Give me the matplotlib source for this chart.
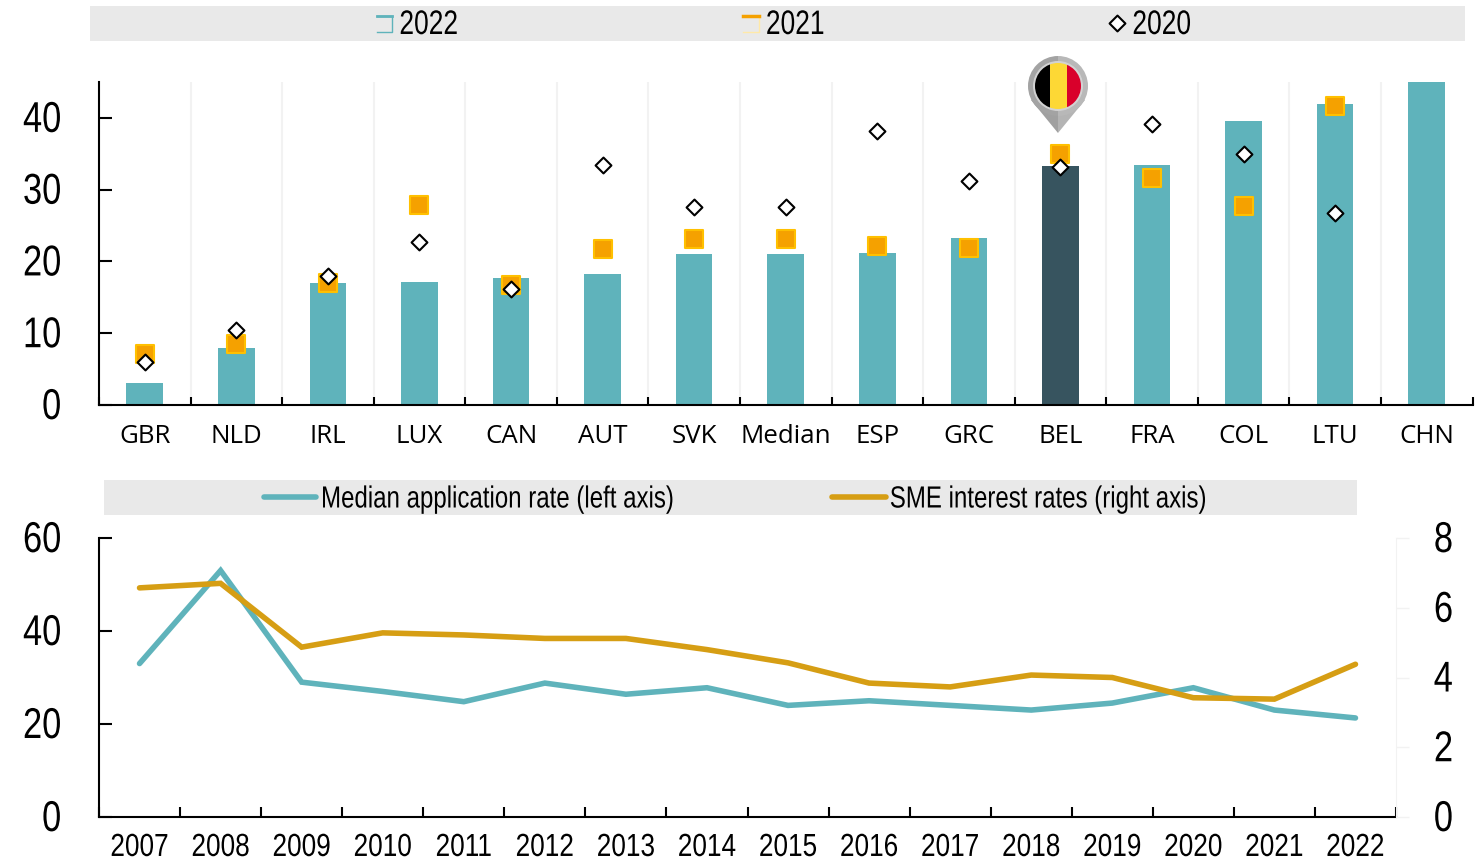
import matplotlib
matplotlib.use('Agg')
import matplotlib.pyplot as plt
from matplotlib.patches import Rectangle, Circle, Polygon, Wedge
from matplotlib.lines import Line2D
from matplotlib.patheffects import AbstractPathEffect
from matplotlib.transforms import Affine2D, ScaledTranslation
import numpy as np

plt.rcParams['font.family'] = ['Liberation Sans']

countries = ['GBR', 'NLD', 'IRL', 'LUX', 'CAN', 'AUT', 'SVK', 'Median', 'ESP', 'GRC', 'BEL', 'FRA', 'COL', 'LTU', 'CHN']
v2022 = [3.0, 7.9, 17.0, 17.2, 17.7, 18.2, 21.0, 21.1, 21.2, 23.2, 33.3, 33.4, 39.6, 42.0, 47.0]
v2021 = [7.1, 8.5, 17.0, 27.8, 16.7, 21.8, 23.1, 23.1, 22.1, 21.9, 35.0, 31.6, 27.7, 41.6, np.nan]
v2020 = [6.0, 10.4, 18.0, 22.7, 16.1, 33.5, 27.6, 27.6, 38.2, 31.2, 33.1, 39.2, 35.0, 26.7, np.nan]

years = ['2007', '2008', '2009', '2010', '2011', '2012', '2013', '2014', '2015', '2016', '2017', '2018', '2019', '2020', '2021', '2022']
application = [33.0, 53.0, 29.0, 27.0, 24.8, 28.8, 26.4, 27.8, 24.0, 25.0, 24.0, 23.0, 24.5, 27.8, 23.0, 21.3]
sme_rates = [6.57, 6.70, 4.87, 5.28, 5.22, 5.12, 5.12, 4.80, 4.42, 3.84, 3.73, 4.07, 4.00, 3.42, 3.38, 4.38]

TEAL = '#5fb3bb'
DARK = '#37545f'
ORANGE = '#f5a100'
EDGE = '#ffc000'
GOLD = '#d69e14'
W, H = 1476, 859


class Squeeze(AbstractPathEffect):
    # the reference uses a condensed font, no such font here so narrow the glyphs
    def __init__(self, sx, anchor='left'):
        super().__init__()
        self.sx = sx
        self.anchor = anchor

    def draw_path(self, renderer, gc, tpath, affine, rgbFace=None):
        box = tpath.get_extents(affine)
        a = {'left': box.x0, 'center': (box.x0 + box.x1) / 2, 'right': box.x1}[self.anchor]
        narrow = affine + Affine2D().translate(-a, 0).scale(self.sx, 1).translate(a, 0)
        renderer.draw_path(gc, tpath, narrow, rgbFace)


def axes_px(x0, y0, x1, y1):
    return fig.add_axes([x0 / W, 1 - y1 / H, (x1 - x0) / W, (y1 - y0) / H])


def lift_labels(labels, px):
    for t in labels:
        t.set_transform(t.get_transform() + ScaledTranslation(0, px / 100, fig.dpi_scale_trans))


fig = plt.figure(figsize=(W / 100, H / 100), dpi=100)

# overlay in pixel coordinates for legend bands and the pin
bg = fig.add_axes([0, 0, 1, 1], zorder=0)
bg.set_xlim(0, W)
bg.set_ylim(H, 0)
bg.axis('off')
bg.add_patch(Rectangle((90, 6), 1375, 35, color='#e9e9e9', lw=0))
bg.add_patch(Rectangle((104, 480), 1253, 35, color='#e9e9e9', lw=0))

# top panel
ax = axes_px(99, 82, 1472.5, 405)
ax.patch.set_alpha(0)
x = np.arange(len(countries))
colors = [DARK if c == 'BEL' else TEAL for c in countries]
ax.bar(x, v2022, width=0.4, color=colors, zorder=2)
ax.scatter(x, v2021, marker='s', s=150, color=ORANGE, edgecolor=EDGE, linewidth=1.5, zorder=3)
ax.scatter(x, v2020, marker='D', s=65, color='white', edgecolor='black', linewidth=1.5, zorder=4)
ax.set_xlim(-0.5, len(countries) - 0.5)
ax.set_ylim(0, 45)
ax.set_yticks([0, 10, 20, 30, 40])
ax.set_xticks(x)
ax.set_xticklabels(countries, family=['Open Sans'], fontsize=18.6)
ax.tick_params(axis='x', length=0, pad=13.7)
ax.tick_params(axis='y', direction='in', length=9.5, width=1.5, labelsize=31, pad=27)
for t in ax.get_yticklabels():
    t.set_path_effects([Squeeze(0.8, 'right')])
lift_labels(ax.get_yticklabels(), 1.5)
for b in x[:-1] + 0.5:
    ax.axvline(b, color='#f2f2f2', lw=1.5, zorder=1)
ax.set_xticks(np.arange(-0.5, len(countries)), minor=True)
ax.tick_params(axis='x', which='minor', direction='in', length=6, width=1.5)
ax.spines[['top', 'right']].set_visible(False)
ax.spines[['left', 'bottom']].set_linewidth(1.5)

# bottom panel
ax2 = axes_px(99, 538, 1396, 817)
ax2.patch.set_alpha(0)
xy = np.arange(len(years))
ax2.plot(xy, application, color=TEAL, lw=4, solid_capstyle='round', solid_joinstyle='miter', zorder=2)
ax2.set_xlim(-0.5, len(years) - 0.5)
ax2.set_ylim(0, 60)
ax2.set_yticks([0, 20, 40, 60])
ax2.set_xticks(xy)
ax2.set_xticklabels(years, fontsize=23)
for t in ax2.get_xticklabels():
    t.set_path_effects([Squeeze(0.82, 'center')])
ax2.tick_params(axis='x', length=0, pad=11.5)
ax2.set_xticks(np.arange(-0.5, len(years)), minor=True)
ax2.tick_params(axis='x', which='minor', direction='in', length=7, width=1.5)
ax2.tick_params(axis='y', direction='in', length=9.5, width=1.5, labelsize=31, pad=27)
for t in ax2.get_yticklabels():
    t.set_path_effects([Squeeze(0.8, 'right')])
lift_labels(ax2.get_yticklabels(), 1.5)
ax2.spines[['top', 'right']].set_visible(False)
ax2.spines[['left', 'bottom']].set_linewidth(1.5)

ax3 = ax2.twinx()
ax3.patch.set_alpha(0)
ax3.plot(xy, sme_rates, color=GOLD, lw=4, solid_capstyle='round', solid_joinstyle='miter', zorder=3)
ax3.set_ylim(0, 8)
ax3.set_yticks([0, 2, 4, 6, 8])
ax3.tick_params(axis='y', direction='out', length=9, width=1, color='#f2f2f2', labelsize=31, pad=18)
for t in ax3.get_yticklabels():
    t.set_path_effects([Squeeze(0.8, 'left')])
lift_labels(ax3.get_yticklabels(), 1.5)
ax3.spines[['top', 'left', 'bottom']].set_visible(False)
ax3.spines['right'].set_color('#f2f2f2')

# overlay for legend text, legend keys and pin
top = fig.add_axes([0, 0, 1, 1], zorder=5)
top.set_xlim(0, W)
top.set_ylim(H, 0)
top.axis('off')

top.add_line(Line2D([377, 392, 392, 377], [32, 32, 16, 16], color=TEAL, lw=1))
top.add_line(Line2D([377, 392], [16, 16], color=TEAL, lw=2))
top.add_line(Line2D([743, 759, 759, 743], [32, 32, 16, 16], color='#ffe9a8', lw=1))
top.add_line(Line2D([743, 759], [16, 16], color=ORANGE, lw=2.5))
top.scatter([1117], [23], marker='D', s=65, color='white', edgecolor='black', linewidth=1.5)
for tx, label in [(399, '2022'), (765.5, '2021'), (1132, '2020')]:
    top.text(tx, 25.5, label, fontsize=24.5, va='center', ha='left', path_effects=[Squeeze(0.775)])

top.add_line(Line2D([264, 316], [497, 497], color=TEAL, lw=4, solid_capstyle='round'))
top.add_line(Line2D([832, 886], [497, 497], color=GOLD, lw=4, solid_capstyle='round'))
top.text(320.5, 499.5, 'Median application rate (left axis)', fontsize=22, va='center', ha='left',
         path_effects=[Squeeze(0.787)])
top.text(889.5, 499.5, 'SME interest rates (right axis)', fontsize=22, va='center', ha='left',
         path_effects=[Squeeze(0.787)])

# Belgian pin
cx, cy, r = 1058, 86, 30
top.add_patch(Polygon([(cx - 27, cy + 14), (cx, cy + 47), (cx, cy)], fc='#a0a0a0', lw=0))
top.add_patch(Polygon([(cx + 27, cy + 14), (cx, cy + 47), (cx, cy)], fc='#b4b4b4', lw=0))
top.add_patch(Wedge((cx, cy), r, 90, 270, fc='#a3a3a3', lw=0))
top.add_patch(Wedge((cx, cy), r, 270, 90, fc='#b8b8b8', lw=0))
top.add_patch(Circle((cx, cy), 25, fc='#d2d2d2', lw=0))
clip = Circle((cx, cy), 23, transform=top.transData)
for sx, sw, c in [(cx - 23, 15, 'black'), (cx - 8, 17, '#fdd835'), (cx + 9, 14, '#d9002b')]:
    s = Rectangle((sx, cy - 24), sw, 48, fc=c, lw=0)
    top.add_patch(s)
    s.set_clip_path(clip)

fig.savefig('out.png', dpi=100)
